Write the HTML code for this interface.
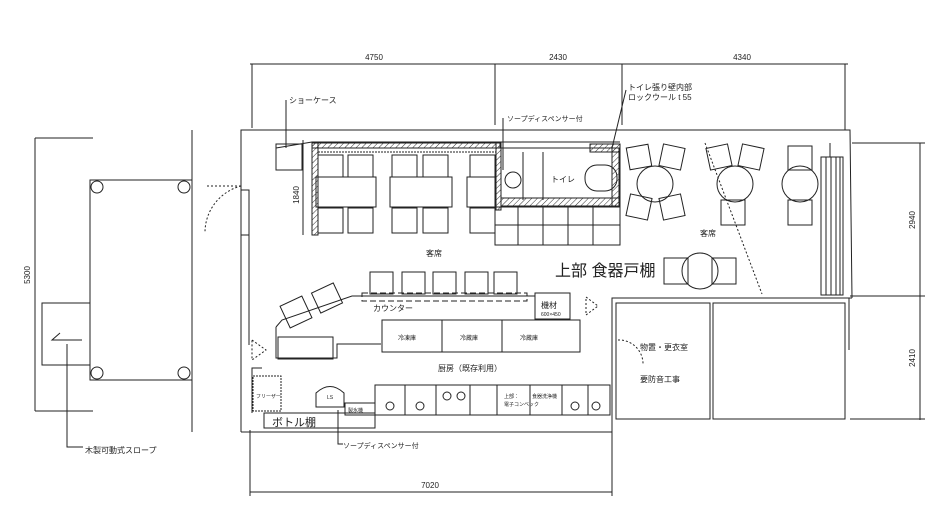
<!DOCTYPE html>
<html><head><meta charset="utf-8"><style>
html,body{margin:0;padding:0;background:#fff}
svg{display:block}
text{font-family:"Liberation Sans","Noto Sans CJK JP",sans-serif;fill:#222}
</style></head><body>
<svg width="952" height="525" viewBox="0 0 952 525" xmlns="http://www.w3.org/2000/svg">
<defs>
<pattern id="h" width="4" height="4" patternUnits="userSpaceOnUse" patternTransform="rotate(45)"><line x1="0" y1="0" x2="0" y2="4" stroke="#333" stroke-width="1"/></pattern>
</defs>
<g fill="none" stroke="#222" stroke-width="1">
<!-- top dimension -->
<line x1="250" y1="64" x2="848" y2="64"/>
<line x1="252" y1="64" x2="252" y2="128"/><line x1="495" y1="64" x2="495" y2="125"/><line x1="622" y1="64" x2="622" y2="125"/><line x1="845" y1="64" x2="845" y2="130"/>
<!-- right dimension -->
<line x1="920" y1="143" x2="920" y2="420"/>
<line x1="852" y1="143" x2="925" y2="143"/><line x1="850" y1="296" x2="925" y2="296"/><line x1="850" y1="419" x2="925" y2="419"/>
<!-- bottom dimension -->
<line x1="250" y1="492" x2="612" y2="492"/>
<line x1="250" y1="430" x2="250" y2="496"/><line x1="612" y1="417" x2="612" y2="496"/>
<!-- left dimension & ramp -->
<line x1="35" y1="138" x2="35" y2="411"/>
<line x1="35" y1="138" x2="93" y2="138"/><line x1="35" y1="411" x2="93" y2="411"/>
<rect x="90" y="180" width="102" height="200"/>
<circle cx="97" cy="187" r="6"/><circle cx="184" cy="187" r="6"/><circle cx="97" cy="373" r="6"/><circle cx="184" cy="373" r="6"/>
<polyline points="90,303 42,303 42,365 90,365"/>
<polyline points="60,333 52,340 82,340"/>
<line x1="192" y1="130" x2="192" y2="432"/>
<polyline points="67,344 67,447 83,447"/>
<!-- outer walls -->
<polyline points="241,432 241,130 850,130 852,298"/>
<polyline points="252,413 252,368 262,368"/>
<polyline points="276,148 312,142 620,142"/>
<line x1="241" y1="432" x2="612" y2="432"/>
<line x1="249" y1="190" x2="249" y2="345"/>
<rect x="241" y="190" width="8" height="45"/>
<path d="M241,186 A48,48 0 0 0 205,232" stroke-dasharray="2,2"/>
<line x1="241" y1="186" x2="205" y2="186" stroke-dasharray="2,2"/>
<rect x="276" y="144" width="26" height="26"/>
<!-- seating wall hatch -->
<rect x="312" y="143" width="188" height="5" fill="url(#h)"/>
<rect x="312" y="143" width="6" height="92" fill="url(#h)"/>
<rect x="496" y="143" width="5" height="67" fill="url(#h)"/>
<line x1="318" y1="152" x2="496" y2="152" stroke-dasharray="2,1"/>
<!-- chairs/tables left block -->
<g>
<rect x="318" y="155" width="25" height="22"/><rect x="348" y="155" width="25" height="22"/>
<rect x="392" y="155" width="25" height="22"/><rect x="423" y="155" width="25" height="22"/>
<rect x="470" y="155" width="25" height="22"/>
<rect x="316" y="177" width="60" height="30"/><rect x="390" y="177" width="62" height="30"/><rect x="467" y="177" width="28" height="30"/>
<rect x="318" y="208" width="25" height="25"/><rect x="348" y="208" width="25" height="25"/>
<rect x="392" y="208" width="25" height="25"/><rect x="423" y="208" width="25" height="25"/>
<rect x="470" y="208" width="25" height="25"/>
</g>
<line x1="303" y1="140" x2="303" y2="235"/>
<!-- toilet -->
<rect x="501" y="148" width="118" height="58"/>
<rect x="501" y="198" width="118" height="8" fill="url(#h)"/>
<rect x="612" y="148" width="8" height="58" fill="url(#h)"/>
<rect x="590" y="144" width="30" height="8" fill="url(#h)"/>
<circle cx="513" cy="180" r="8"/>
<line x1="523" y1="152" x2="523" y2="200"/>
<rect x="585" y="165" width="32" height="26" rx="12"/>
<line x1="543" y1="152" x2="543" y2="200"/>
<rect x="495" y="207" width="125" height="38"/>
<line x1="495" y1="225" x2="620" y2="225"/><line x1="518" y1="207" x2="518" y2="245"/><line x1="543" y1="207" x2="543" y2="245"/><line x1="568" y1="207" x2="568" y2="245"/><line x1="593" y1="207" x2="593" y2="245"/>
<!-- round tables -->
<circle cx="655" cy="184" r="18"/><circle cx="735" cy="184" r="18"/><circle cx="800" cy="184" r="18"/>
<rect x="628" y="146" width="22" height="22" transform="rotate(-10 639 157)"/><rect x="661" y="146" width="22" height="22" transform="rotate(12 672 157)"/>
<rect x="628" y="196" width="22" height="22" transform="rotate(12 639 207)"/><rect x="661" y="196" width="22" height="22" transform="rotate(-12 672 207)"/>
<rect x="708" y="146" width="22" height="22" transform="rotate(-12 719 157)"/><rect x="740" y="146" width="22" height="22" transform="rotate(12 751 157)"/>
<rect x="721" y="200" width="24" height="25"/>
<rect x="788" y="146" width="24" height="24"/><rect x="788" y="200" width="24" height="25"/>
<line x1="705" y1="143" x2="762" y2="294" stroke-dasharray="2,2"/>
<circle cx="700" cy="271" r="18"/><rect x="664" y="258" width="24" height="26"/><rect x="712" y="258" width="24" height="26"/>
<rect x="821" y="157" width="22" height="138"/>
<line x1="826" y1="157" x2="826" y2="295"/><line x1="831" y1="157" x2="831" y2="295"/><line x1="836" y1="157" x2="836" y2="295"/><line x1="840" y1="157" x2="840" y2="295"/>
<line x1="830" y1="143" x2="830" y2="157"/>
<!-- lower right rooms -->
<polyline points="612,432 612,298 852,298"/>
<rect x="616" y="303" width="94" height="116"/>
<rect x="713" y="303" width="132" height="116"/>
<line x1="849" y1="298" x2="849" y2="350"/>
<path d="M618,340 A24,24 0 0 1 643,365" stroke-dasharray="2,2"/>
<!-- counter -->
<polyline points="276,327 282,320 352,296 535,296 535,315"/>
<rect x="362" y="293" width="165" height="8" stroke-dasharray="6,3"/>
<rect x="370" y="272" width="23" height="22"/><rect x="402" y="272" width="23" height="22"/><rect x="433" y="272" width="23" height="22"/><rect x="465" y="272" width="23" height="22"/><rect x="494" y="272" width="23" height="22"/>
<rect x="284" y="300" width="24" height="24" transform="rotate(-25 296 312)"/><rect x="315" y="287" width="24" height="22" transform="rotate(-25 327 298)"/>
<rect x="535" y="293" width="35" height="26"/>
<path d="M586,297 L598,306 L586,315 Z" stroke-dasharray="2,2"/>
<polyline points="276,327 276,358 337,358 337,344 381,344"/>
<rect x="278" y="337" width="55" height="22"/>
<rect x="382" y="320" width="198" height="32"/>
<line x1="442" y1="320" x2="442" y2="352"/><line x1="502" y1="320" x2="502" y2="352"/>
<path d="M252,340 L266,350 L252,360 Z" stroke-dasharray="2,2"/>
<!-- kitchen bottom -->
<rect x="375" y="385" width="235" height="30"/>
<line x1="405" y1="385" x2="405" y2="415"/><line x1="436" y1="385" x2="436" y2="415"/><line x1="470" y1="385" x2="470" y2="415"/><line x1="497" y1="385" x2="497" y2="415"/><line x1="530" y1="385" x2="530" y2="415"/><line x1="562" y1="385" x2="562" y2="415"/><line x1="588" y1="385" x2="588" y2="415"/>
<circle cx="390" cy="406" r="4"/><circle cx="420" cy="406" r="4"/><circle cx="575" cy="406" r="4"/><circle cx="596" cy="406" r="4"/>
<circle cx="447" cy="396" r="4"/><circle cx="461" cy="396" r="4"/>
<rect x="253" y="376" width="28" height="35" stroke-dasharray="2,1"/>
<path d="M316,407 L316,393 Q330,380 344,393 L344,407 Z"/>
<rect x="345" y="403" width="30" height="12"/>
<rect x="264" y="413" width="111" height="15"/>
<polyline points="338,410 338,444 343,444"/>
<!-- leaders -->
<polyline points="286,100 286,148"/>
<polyline points="503,118 503,170"/>
<polyline points="626,90 612,148"/>
</g>
<g font-size="8">
<text x="374" y="60" text-anchor="middle">4750</text>
<text x="558" y="60" text-anchor="middle">2430</text>
<text x="742" y="60" text-anchor="middle">4340</text>
<text x="430" y="488" text-anchor="middle">7020</text>
<text transform="translate(30,275) rotate(-90)" text-anchor="middle">5300</text>
<text transform="translate(915,220) rotate(-90)" text-anchor="middle">2940</text>
<text transform="translate(915,358) rotate(-90)" text-anchor="middle">2410</text>
<text transform="translate(299,195) rotate(-90)" text-anchor="middle">1840</text>
<text x="289" y="103">ショーケース</text>
<text x="507" y="121" font-size="7">ソープディスペンサー付</text>
<text x="628" y="90">トイレ張り壁内部</text>
<text x="628" y="100">ロックウール t 55</text>
<text x="551" y="182">トイレ</text>
<text x="426" y="256">客席</text>
<text x="700" y="236">客席</text>
<text x="373" y="311">カウンター</text>
<text x="398" y="340" font-size="6">冷凍庫</text><text x="460" y="340" font-size="6">冷蔵庫</text><text x="520" y="340" font-size="6">冷蔵庫</text>
<text x="438" y="371">厨房（既存利用）</text>
<text x="541" y="308">機材</text>
<text x="541" y="316" font-size="5">600×450</text>
<text x="640" y="350">物置・更衣室</text>
<text x="640" y="382">要防音工事</text>
<text x="85" y="453">木製可動式スロープ</text>
<text x="343" y="448" font-size="7">ソープディスペンサー付</text>
<text x="256" y="398" font-size="5">フリーザー</text>
<text x="504" y="398" font-size="5">上部：</text><text x="504" y="406" font-size="5">電子コンベック</text>
<text x="532" y="398" font-size="5">食器洗浄機</text>
<text x="348" y="412" font-size="5">製氷機</text>
<text x="327" y="399" font-size="5">LS</text>
</g>
<text x="555" y="276" font-size="16">上部 食器戸棚</text>
<text x="272" y="426" font-size="11">ボトル棚</text>
</svg>
</body></html>
